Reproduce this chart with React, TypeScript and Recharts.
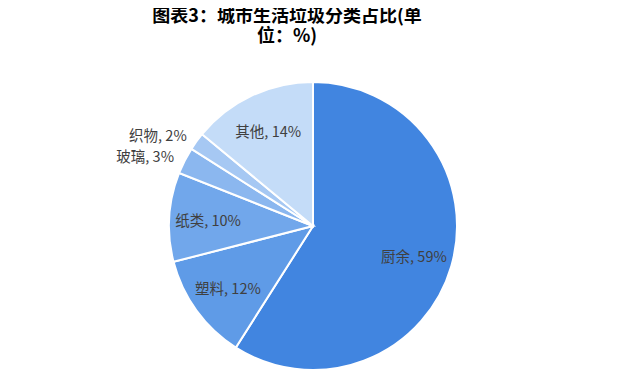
import { Cell, Pie, PieChart } from 'recharts';

const categories = ['厨余', '塑料', '纸类', '玻璃', '织物', '其他'];
const shares = [59, 12, 10, 3, 2, 14];
const sliceColors = ['#4185e0', '#5f9be7', '#71a7eb', '#8bb7ef', '#a6c8f3', '#c4dcf8'];
// small slices get their label outside the pie, end-anchored
const outsideLabels = ['玻璃', '织物'];

const data = categories.map((name, i) => ({ name, value: shares[i] }));

const RADIAN = Math.PI / 180;
const FONT = '"Noto Sans CJK SC", "Microsoft YaHei", sans-serif';

function renderLabel(props: any) {
  const { cx, cy, midAngle, outerRadius, name, value } = props;
  const outside = outsideLabels.includes(name);
  const r = outside ? outerRadius + 12 : outerRadius * 0.73;
  const x = cx + r * Math.cos(-midAngle * RADIAN);
  const y = cy + r * Math.sin(-midAngle * RADIAN);
  return (
    <text
      x={x}
      y={y}
      textAnchor={outside ? 'end' : 'middle'}
      dominantBaseline="central"
      fill="#404040"
      fontSize={14.5}
      fontFamily={FONT}
    >
      {`${name}, ${value}%`}
    </text>
  );
}

export default function App() {
  return (
    <div style={{ position: 'relative', width: 635, height: 387, margin: -8, background: '#fff' }}>
      <div
        style={{
          position: 'absolute',
          left: 137,
          top: 4,
          width: 300,
          textAlign: 'center',
          fontFamily: FONT,
          fontWeight: 'bold',
          fontSize: 18,
          lineHeight: '20px',
          color: '#000',
        }}
      >
        <div style={{ whiteSpace: 'nowrap', height: 20 }}>图表3：城市生活垃圾分类占比(单</div>
        <div style={{ height: 20 }}>位：%)</div>
      </div>
      <PieChart width={635} height={387} style={{ position: 'absolute', left: 0, top: 0 }}>
        <Pie
          data={data}
          dataKey="value"
          nameKey="name"
          cx={308}
          cy={221}
          outerRadius={144}
          startAngle={90}
          endAngle={-270}
          stroke="#ffffff"
          strokeWidth={2}
          label={renderLabel}
          labelLine={false}
          isAnimationActive={false}
        >
          {data.map((d, i) => (
            <Cell key={d.name} fill={sliceColors[i]} />
          ))}
        </Pie>
      </PieChart>
    </div>
  );
}
